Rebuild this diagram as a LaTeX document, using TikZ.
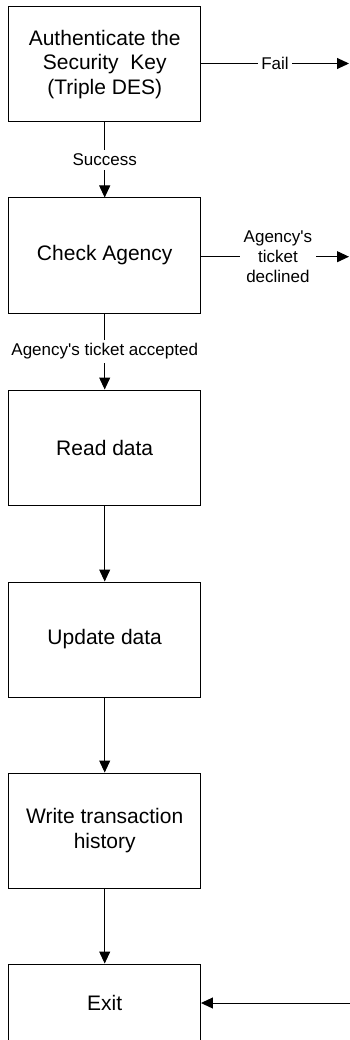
\documentclass[tikz,border=0pt]{standalone}
\usepackage{fontspec}
\setmainfont{Liberation Sans}
\usetikzlibrary{arrows.meta}

\begin{document}
\begin{tikzpicture}[x=1pt,y=-1pt,line width=1pt,
    >={Triangle[length=12pt,width=11pt]}]

      \clip (0,0) rectangle (350,1040);

      \begin{scope}[every node/.style={draw,align=center,inner sep=0pt,
          minimum width=191.5pt,minimum height=115pt,
          font=\fontsize{21}{24.5}\selectfont}]
        \node (auth)   at (104.7,64.5)  {Authenticate the\\Security\ \ Key\\(Triple DES)};
        \node (agency) at (104.7,255.5) {Check Agency};
        \node (read)   at (104.7,447.5) {Read data};
        \node (update) at (104.7,639.5) {Update data};
        \node (write)  at (104.7,830.5) {Write transaction\\history};
        \node[minimum height=78pt] (exit) at (104.7,1003) {Exit};
      \end{scope}

      \coordinate (fail)   at (349,63.5);
      \coordinate (reject) at (349,256.7);
      \coordinate (back)   at (350,1003);

      \begin{scope}[every node/.style={fill=white,align=center,inner sep=3.5pt,
          font=\fontsize{17}{20}\selectfont}]

        \begin{scope}[every edge/.style={draw,->}]
          \path (auth)   edge node {Success} (agency);
          \path (agency) edge node {Agency\textquotesingle s ticket accepted} (read);
          \path (read)   edge (update);
          \path (update) edge (write);
          \path (write)  edge (exit);
          \path (auth.east |- fail) edge node {Fail} (fail);
          \path (agency.east |- reject) edge node[pos=0.52] {Agency\textquotesingle s\\ticket\\declined} (reject);
          \path (back)   edge (exit.east |- back);
        \end{scope}
      \end{scope}

    \end{tikzpicture}
\end{document}
